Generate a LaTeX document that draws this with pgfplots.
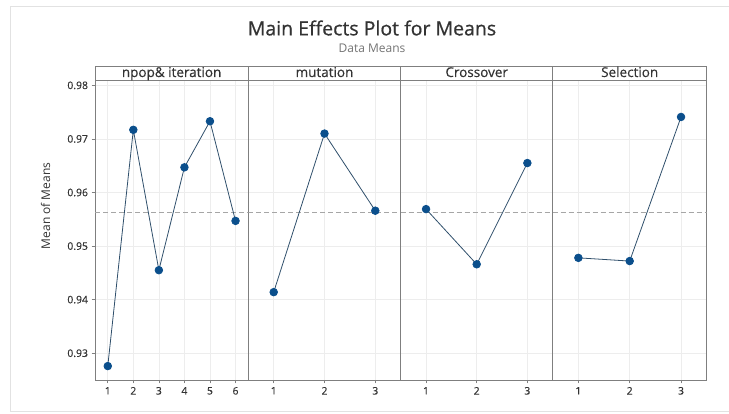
\documentclass[border=0pt]{standalone}
\usepackage{pgfplots}
\pgfplotsset{compat=1.18}
\usepackage{fontspec}
\setmainfont{Open Sans}
\newfontfamily\semi[FakeBold=0.7]{Open Sans}
\newfontfamily\semit[FakeBold=0.4]{Open Sans}
\definecolor{axgray}{HTML}{7F7F7F}
\definecolor{gridc}{HTML}{EDEDED}
\definecolor{linec}{HTML}{2F4F6B}
\definecolor{markc}{HTML}{0B4F8C}
\definecolor{txt}{HTML}{333333}
\definecolor{framec}{HTML}{E2E2E2}
\pgfplotsset{panel/.style={
  scale only axis, height=300pt, ymin=0.925, ymax=0.981, enlargelimits=false,
  axis line style={axgray, line width=0.8pt},
  grid=major, grid style={gridc, line width=0.6pt},
  ytick={0.93,0.94,0.95,0.96,0.97,0.98},
  scaled y ticks=false,
  xtick pos=left, ytick pos=left,
  tick align=outside, major tick length=3.5pt,
  tick style={axgray, line width=0.7pt},
  tick label style={font=\semit\fontsize{10.4}{12}\selectfont, text=txt},
  /pgf/number format/assume math mode=true,
  yticklabel style={/pgf/number format/.cd, fixed, precision=2, zerofill},
  anchor=south west,
},
meanline/.style={gray!70, line width=0.8pt, dash pattern=on 5pt off 3pt, forget plot},
series/.style={linec, line width=0.8pt, mark=*, mark size=3.8pt, mark options={fill=markc, draw=markc}},
noy/.style={yticklabels={}, ytick style={draw=none}}
}
\begin{document}
\begin{tikzpicture}
\path[use as bounding box] (0,0) rectangle (729pt,414pt);
\draw[framec, line width=0.8pt] (729pt,408pt) -- (10pt,408pt) -- (10pt,2.3pt) -- (729pt,2.3pt);
% panel 1
\begin{axis}[panel, at={(95pt,34pt)}, width=153.3pt, xmin=0.5, xmax=6.5, xtick={1,2,3,4,5,6}]
\addplot[meanline] coordinates {(0.5,0.95625) (6.5,0.95625)};
\addplot[series] coordinates {(1,0.9276) (2,0.9717) (3,0.9455) (4,0.9647) (5,0.9733) (6,0.9547)};
\end{axis}
% panel 2
\begin{axis}[panel, noy, at={(248.3pt,34pt)}, width=152.4pt, xmin=0.5, xmax=3.5, xtick={1,2,3}]
\addplot[meanline] coordinates {(0.5,0.95625) (3.5,0.95625)};
\addplot[series] coordinates {(1,0.9414) (2,0.9710) (3,0.9566)};
\end{axis}
% panel 3
\begin{axis}[panel, noy, at={(400.7pt,34pt)}, width=152pt, xmin=0.5, xmax=3.5, xtick={1,2,3}]
\addplot[meanline] coordinates {(0.5,0.95625) (3.5,0.95625)};
\addplot[series] coordinates {(1,0.9569) (2,0.9466) (3,0.9655)};
\end{axis}
% panel 4
\begin{axis}[panel, noy, at={(552.7pt,34pt)}, width=154pt, xmin=0.5, xmax=3.5, xtick={1,2,3}]
\addplot[meanline] coordinates {(0.5,0.95625) (3.5,0.95625)};
\addplot[series] coordinates {(1,0.9478) (2,0.9472) (3,0.9741)};
\end{axis}
% strip headers
\draw[axgray, line width=0.8pt] (95pt,334pt) rectangle (248.3pt,347.3pt);
\draw[axgray, line width=0.8pt] (248.3pt,334pt) rectangle (400.7pt,347.3pt);
\draw[axgray, line width=0.8pt] (400.7pt,334pt) rectangle (552.7pt,347.3pt);
\draw[axgray, line width=0.8pt] (552.7pt,334pt) rectangle (706.7pt,347.3pt);
\tikzset{strip/.style={font=\semit\fontsize{13.5}{14}\selectfont, text=txt, inner sep=0pt, anchor=base}}
\node[strip] at (171.6pt,337pt) {npop\& iteration};
\node[strip] at (324.5pt,337pt) {mutation};
\node[strip] at (476.7pt,337pt) {Crossover};
\node[strip] at (629.7pt,337pt) {Selection};
% titles
\node[font=\semi\fontsize{19.5}{22}\selectfont, text=txt] at (372pt,386pt) {Main Effects Plot for Means};
\node[font=\fontsize{12}{14}\selectfont, text=gray!90!black] at (372pt,366pt) {Data Means};
\node[font=\fontsize{12}{14}\selectfont, text=txt, rotate=90] at (45.5pt,208pt) {Mean of Means};
\end{tikzpicture}
\end{document}
